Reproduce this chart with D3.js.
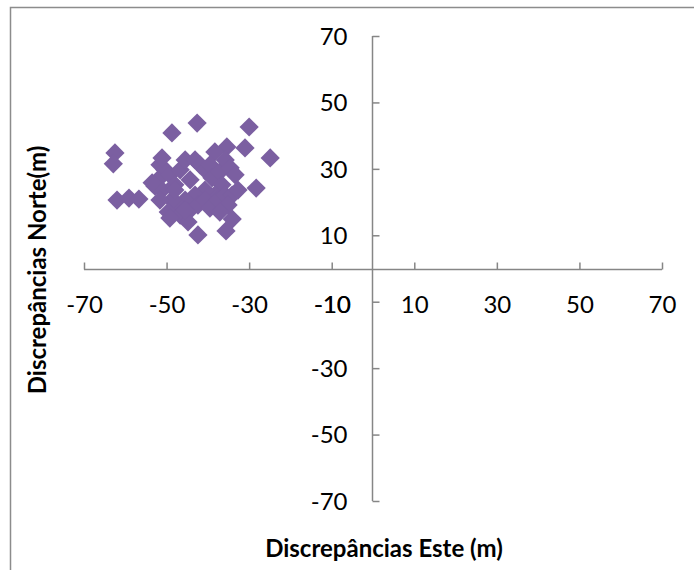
<!DOCTYPE html>
<html>
<head>
<meta charset="utf-8">
<script src="https://cdn.jsdelivr.net/npm/d3@7"></script>
<style>
  body { margin: 0; background: #fff; }
  #chart { width: 694px; height: 570px; }
  text { font-family: Lato, "Open Sans", sans-serif; fill: #000; }
</style>
</head>
<body>
<div id="chart"></div>
<script>
// discrepancies (m): east (x) and north (y)
const eastValues = [
  -62.5, -62.9, -62.0, -59.1, -56.7, -48.7, -42.6, -30.0, -31.0, -35.4,
  -38.3, -24.9, -28.3, -34.1, -35.6, -42.4, -51.6, -50.4, -52.1, -52.8,
  -51.1, -49.2, -48.0, -46.7, -45.5, -43.1, -41.9, -40.7, -39.5, -39.0,
  -37.1, -35.8, -34.6, -33.4, -36.6, -38.3, -40.7, -43.1, -44.3, -45.5,
  -47.2, -48.7, -49.6, -46.7, -44.8, -42.4, -40.7, -39.5, -37.5, -35.8,
  -34.1, -32.7, -35.1, -37.1, -49.2, -48.0, -51.6, -53.5, -51.1, -44.8,
  -45.5
];
const northValues = [
  34.8, 31.5, 20.6, 21.2, 20.9, 40.8, 43.8, 42.6, 36.3, 36.6,
  35.1, 33.3, 24.2, 14.9, 11.3, 10.1, 31.2, 29.7, 26.7, 24.8,
  23.6, 28.2, 25.2, 29.7, 32.7, 32.7, 31.2, 29.7, 31.2, 27.3,
  29.1, 32.7, 30.3, 28.2, 25.2, 22.1, 23.6, 22.1, 26.7, 20.6,
  19.1, 20.6, 17.0, 16.1, 17.0, 19.1, 20.6, 18.2, 20.6, 22.1,
  22.1, 23.6, 19.1, 17.0, 15.2, 23.6, 20.6, 25.8, 33.3, 14.0,
  17.6
];
const xTicks = [-70, -50, -30, -10, 10, 30, 50, 70];
const yTicks = [-70, -50, -30, -10, 10, 30, 50, 70];
const xTitle = "Discrepâncias Este (m)";
const yTitle = "Discrepâncias Norte(m)";

const data = eastValues.map((e, i) => ({ east: e, north: northValues[i] }));

const fullW = 694, fullH = 570;
const svg = d3.select("#chart").append("svg")
  .attr("width", fullW)
  .attr("height", fullH);

// outer chart frame (runs off the right/bottom edge like the source)
svg.append("rect")
  .attr("x", 10.5).attr("y", 7.5)
  .attr("width", 720).attr("height", 620)
  .attr("fill", "none")
  .attr("stroke", "#8c8c8c")
  .attr("stroke-width", 1.5);

const x = d3.scaleLinear().domain([-70, 70]).range([84, 662]);
const y = d3.scaleLinear().domain([-70, 70]).range([501, 36]);

const axisColor = "#868686";
const fmt = d => String(d);   // plain hyphen, not the unicode minus
const xAxisY = Math.round(y(0)) + 0.5;
const yAxisX = Math.round(x(0)) - 0.5;
const xLabelOffset = 43;

// x axis through y = 0, ticks pointing up
svg.append("g")
  .attr("transform", `translate(0,${xAxisY})`)
  .call(d3.axisBottom(x).tickValues(xTicks).tickSize(-7).tickPadding(0).tickFormat(fmt))
  .call(g => g.select(".domain").attr("stroke", axisColor).attr("stroke-width", 1.5).attr("d", `M${x(-70)},0H${x(70)}`))
  .call(g => g.selectAll("line").attr("stroke", axisColor).attr("stroke-width", 1.5))
  .call(g => g.selectAll("text")
    .attr("y", xLabelOffset)
    .attr("dy", 0)
    .attr("fill", "#000")
    .style("font-size", "24px")
    .style("font-family", "Lato, sans-serif"));

// y axis through x = 0, ticks pointing right, labels left
svg.append("g")
  .attr("transform", `translate(${yAxisX},0)`)
  .call(d3.axisRight(y).tickValues(yTicks).tickSize(7).tickFormat(fmt))
  .call(g => g.select(".domain").attr("stroke", axisColor).attr("stroke-width", 1.5).attr("d", `M0,${y(70)}V${y(-70)}`))
  .call(g => g.selectAll("line").attr("stroke", axisColor).attr("stroke-width", 1.5))
  .call(g => g.selectAll("text")
    .attr("x", -25)
    .attr("dy", "0.35em")
    .attr("text-anchor", "end")
    .attr("fill", "#000")
    .style("font-size", "24px")
    .style("font-family", "Lato, sans-serif"))
  // the y "-10" sits on top of the x "-10" (as in the source, where it reads bold)
  .call(g => g.selectAll(".tick").filter(d => d === -10).select("text")
    .attr("text-anchor", "middle")
    .attr("x", x(-10) - yAxisX + 0.8)
    .attr("dy", 0)
    .attr("y", xAxisY + xLabelOffset - y(-10)));

// diamonds
const diamond = d3.symbol().type(d3.symbolSquare).size(185);
svg.append("g")
  .selectAll("path")
  .data(data)
  .join("path")
  .attr("d", diamond)
  .attr("transform", d => `translate(${x(d.east)},${y(d.north)}) rotate(45)`)
  .attr("fill", "#7b5fa1");

// axis titles
svg.append("text")
  .attr("x", 384)
  .attr("y", 557)
  .attr("text-anchor", "middle")
  .style("font-size", "24px")
  .style("font-weight", "bold")
  .text(xTitle);

svg.append("text")
  .attr("transform", "translate(46,270) rotate(-90)")
  .attr("text-anchor", "middle")
  .style("font-size", "24px")
  .style("font-weight", "bold")
  .text(yTitle);
</script>
</body>
</html>
